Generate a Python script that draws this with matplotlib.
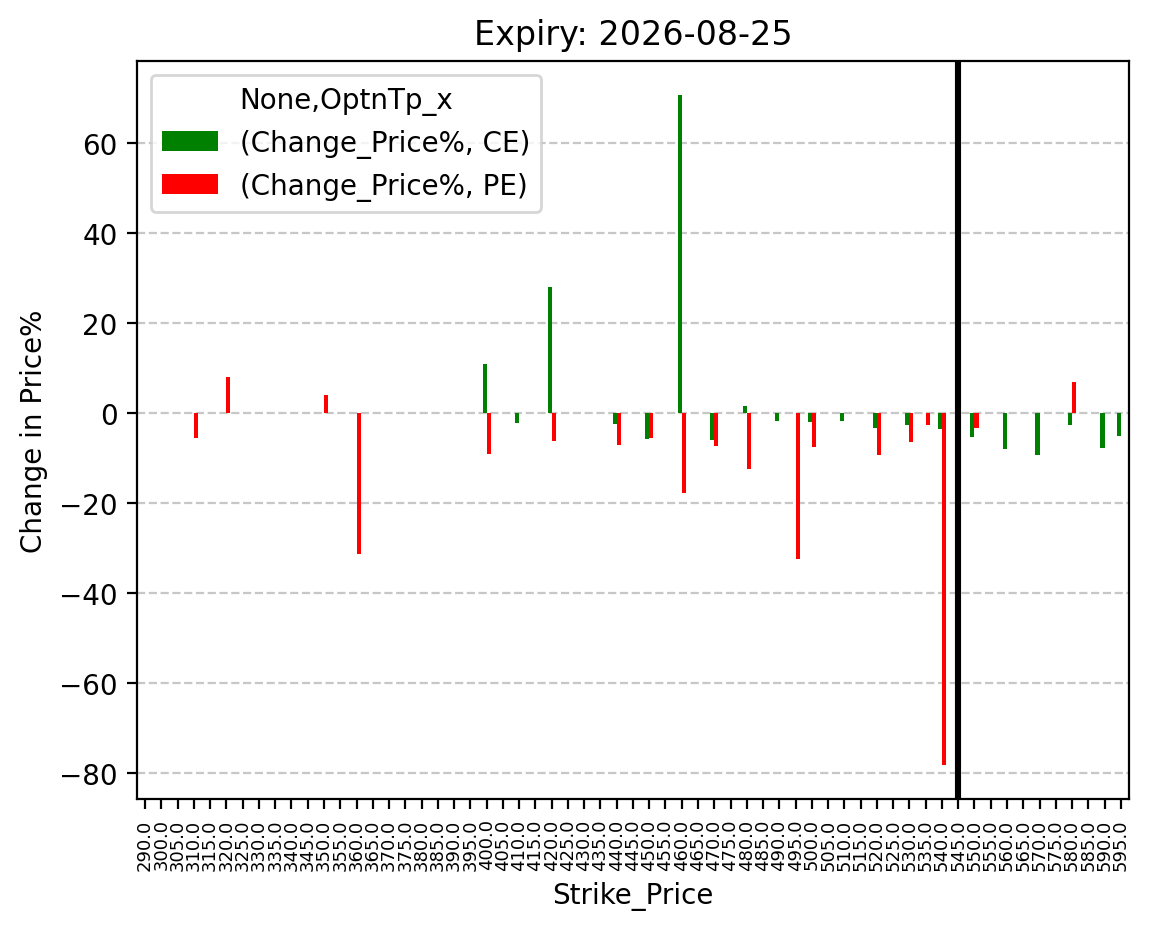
import numpy as np
import pandas as pd
import matplotlib
matplotlib.use("Agg")
import matplotlib.pyplot as plt

nan = np.nan

strikes = [290.0] + [float(s) for s in range(300, 600, 5)]

# % change in option price per strike (NaN = no data)
ce_change = {
    400: 10.9, 410: -2.1, 420: 28.0, 440: -2.4, 450: -5.8, 460: 70.8,
    470: -6.0, 480: 1.6, 490: -1.7, 500: -1.9, 510: -1.7, 520: -3.3,
    530: -2.6, 540: -3.5, 550: -5.3, 560: -7.9, 570: -9.3, 580: -2.6,
    590: -7.7, 595: -5.0,
}
pe_change = {
    310: -5.6, 320: 8.0, 350: 4.1, 360: -31.3, 400: -9.1, 420: -6.1,
    440: -7.0, 450: -5.6, 460: -17.7, 470: -7.3, 480: -12.4, 495: -32.4,
    500: -7.5, 520: -9.3, 530: -6.4, 535: -2.6, 540: -78.3, 550: -3.3,
    580: 6.9,
}
spot_strike = 545.0
expiry = "2026-08-25"

ce_values = [ce_change.get(int(s), nan) for s in strikes]
pe_values = [pe_change.get(int(s), nan) for s in strikes]

cols = pd.MultiIndex.from_tuples(
    [("Change_Price%", "CE"), ("Change_Price%", "PE")], names=[None, "OptnTp_x"]
)
df = pd.DataFrame(
    np.column_stack([ce_values, pe_values]),
    index=pd.Index(strikes, name="Strike_Price"),
    columns=cols,
)

fig = plt.figure(figsize=(5.75, 4.64), dpi=200)
ax = fig.add_axes([0.1191, 0.1379, 0.8626, 0.7953])
df.plot(kind="bar", ax=ax, color=["green", "red"])

ax.axvline(strikes.index(spot_strike), color="black", linewidth=2.2)
ax.grid(axis="y", linestyle="--", alpha=0.7)
ax.set_axisbelow(True)
ax.tick_params(axis="x", labelsize=6.5, rotation=90)
ax.set_title(f"Expiry: {expiry}")
ax.set_ylabel("Change in Price%")

fig.savefig("out.png", dpi=200)
